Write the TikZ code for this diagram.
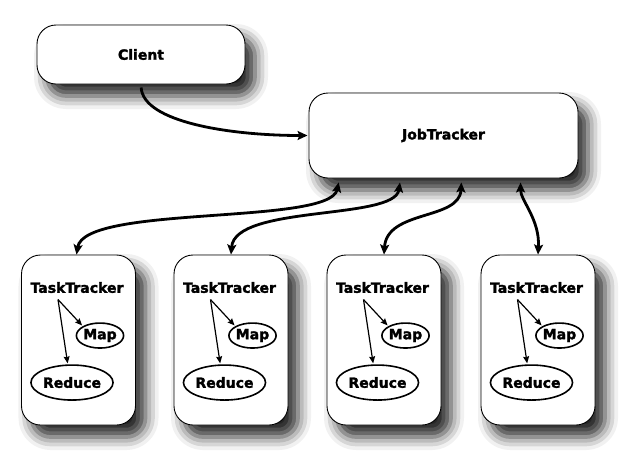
\documentclass[tikz,border=0pt]{standalone}
\usepackage{fontspec}
\setmainfont{DejaVu Sans}[BoldFeatures={FakeBold=2}]
\usetikzlibrary{arrows.meta,shapes.geometric,shadows.blur}

\tikzset{
  box/.style={draw, line width=0.9pt, fill=white, rounded corners=19pt,
    blur shadow={shadow xshift=10pt, shadow yshift=-12pt,
      shadow blur radius=13pt, shadow opacity=85},
    font=\bfseries\fontsize{14}{16}\selectfont},
  tracker/.style={box, minimum width=114pt, minimum height=170pt},
  txt/.style={font=\bfseries\fontsize{14}{16}\selectfont, inner sep=0pt},
  task/.style={txt, ellipse, draw, line width=1.6pt, fill=white},
  conn/.style={line width=2.8pt, -{Stealth[length=10pt,width=9pt,inset=2pt]}},
  dconn/.style={line width=2.8pt,
    {Stealth[length=10pt,width=9pt,inset=2pt]}-{Stealth[length=10pt,width=9pt,inset=2pt]}},
  spawn/.style={line width=1.2pt, -{Stealth[length=7pt,width=6pt,inset=1pt]}}
}

\begin{document}
\begin{tikzpicture}[x=1pt, y=-1pt]
  \useasboundingbox (0,0) rectangle (640,453);

  \node[box, minimum width=208pt, minimum height=59pt] (client) at (141,54.5) {Client};
  \node[box, minimum width=269pt, minimum height=85pt] (jt) at (443.5,135.5) {JobTracker};

  % task trackers with their map and reduce tasks
  \foreach \i/\x in {1/78.5, 2/231, 3/384, 4/538} {
    \node[tracker] (t\i) at (\x,340) {};
    \node[txt] (l\i) at ([xshift=-1.5pt,yshift=-33pt]t\i.north) {TaskTracker};
    \node[task, minimum height=25pt] (m\i) at ([xshift=21.5pt,yshift=-81pt]t\i.north) {Map};
    \node[task, minimum height=35pt, minimum width=78pt] (r\i) at ([xshift=-6.5pt,yshift=-128pt]t\i.north) {Reduce};
    \coordinate (s\i) at ([xshift=-20.5pt,yshift=-45pt]t\i.north);
    \draw[spawn, shorten >=1pt] (s\i) -- (m\i.north west);
    \draw[spawn, shorten >=1pt] (s\i) -- (r\i.103);
  }

  \draw[conn, shorten <=3pt, shorten >=1pt] (client.south) .. controls +(2,38) and +(-77,0) .. (jt.west);

  \draw[dconn, shorten >=4pt] ([xshift=-2pt]t1.north) .. controls +(8,-50) and +(-10,47) .. ([xshift=31pt]jt.south west);
  \draw[dconn, shorten >=4pt] (t2.north) .. controls +(4,-50) and +(-6,42) .. ([xshift=92pt]jt.south west);
  \draw[dconn, shorten >=4pt] (t3.north) .. controls +(3,-45) and +(-2,42) .. ([xshift=153pt]jt.south west);
  \draw[dconn, shorten >=4pt] (t4.north) .. controls +(2,-35) and +(0,22) .. ([xshift=212pt]jt.south west);
\end{tikzpicture}
\end{document}
